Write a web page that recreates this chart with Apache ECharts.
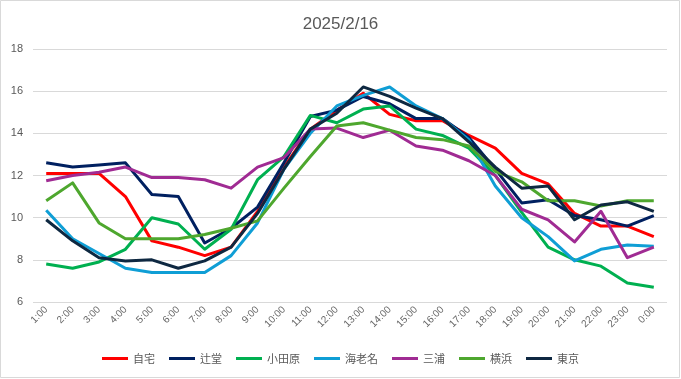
<!DOCTYPE html>
<html>
<head>
<meta charset="utf-8">
<script src="https://cdn.jsdelivr.net/npm/echarts@6/dist/echarts.min.js"></script>
<style>
html,body{margin:0;padding:0;background:#fff;}
#c{width:681px;height:379px;}
</style>
</head>
<body>
<div id="c"></div>
<script>
const title = "2025/2/16";
const categories = ["1:00","2:00","3:00","4:00","5:00","6:00","7:00","8:00","9:00","10:00","11:00","12:00","13:00","14:00","15:00","16:00","17:00","18:00","19:00","20:00","21:00","22:00","23:00","0:00"];
const yTicks = [6, 8, 10, 12, 14, 16, 18];
const seriesNames = ["自宅","辻堂","小田原","海老名","三浦","横浜","東京"];
const jitaku   = [12.1,12.1,12.1,11.0,8.9,8.6,8.2,8.6,10.3,12.4,14.2,15.1,15.9,14.9,14.6,14.6,13.9,13.3,12.1,11.6,10.2,9.6,9.6,9.1];
const tsujido  = [12.6,12.4,12.5,12.6,11.1,11.0,8.8,9.5,10.5,12.6,14.8,15.1,15.75,15.4,14.7,14.7,13.8,12.3,10.7,10.85,10.1,9.9,9.6,10.1];
const odawara  = [7.8,7.6,7.9,8.5,10.0,9.7,8.5,9.45,11.8,12.9,14.85,14.5,15.15,15.3,14.2,13.9,13.3,12.0,10.25,8.6,8.0,7.7,6.9,6.7];
const ebina    = [10.35,9.0,8.3,7.6,7.4,7.4,7.4,8.2,9.75,12.3,14.0,15.3,15.8,16.2,15.3,14.7,13.7,11.5,10.0,9.1,7.95,8.5,8.7,8.65];
const miura    = [11.75,12.0,12.15,12.4,11.9,11.9,11.8,11.4,12.4,12.85,14.2,14.25,13.8,14.15,13.4,13.2,12.7,12.0,10.4,9.9,8.85,10.3,8.1,8.6];
const yokohama = [10.8,11.65,9.75,9.0,9.0,9.0,9.2,9.5,9.85,11.4,12.9,14.35,14.5,14.15,13.8,13.7,13.4,12.2,11.7,10.8,10.8,10.55,10.8,10.8];
const tokyo    = [9.9,8.9,8.1,7.95,8.0,7.6,7.95,8.6,10.2,12.3,14.2,14.95,16.2,15.75,15.2,14.7,13.6,12.4,11.4,11.5,9.9,10.6,10.75,10.3];
const seriesData = [jitaku, tsujido, odawara, ebina, miura, yokohama, tokyo];
const colors = ["#FF0000","#002060","#00B050","#0F9ED5","#A02B93","#4EA72E","#0E2841"];

const chart = echarts.init(document.getElementById('c'), null, {renderer:'canvas'});
const font = "'Liberation Sans','Noto Sans CJK JP',sans-serif";
chart.setOption({
  animation:false,
  backgroundColor:'#ffffff',
  graphic:[{type:'rect',shape:{x:0.5,y:0.5,width:679,height:377},style:{fill:'none',stroke:'#d9d9d9',lineWidth:1},silent:true}],
  title:{text:title,left:'center',top:11,textStyle:{fontFamily:font,fontSize:17,fontWeight:'normal',color:'#595959'}},
  legend:{
    bottom:10,left:'center',itemWidth:26,itemHeight:3,itemGap:14,icon:'rect',
    textStyle:{fontFamily:"'Noto Sans CJK JP',sans-serif",fontSize:11,color:'#595959'},
    data:seriesNames
  },
  grid:{left:33,right:14,top:49,bottom:77,containLabel:false},
  xAxis:{
    type:'category',data:categories,boundaryGap:true,
    axisLine:{show:false},axisTick:{show:false},
    axisLabel:{rotate:45,fontFamily:font,fontSize:10,color:'#666666',margin:6,interval:0}
  },
  yAxis:{
    type:'value',min:yTicks[0],max:yTicks[yTicks.length-1],interval:2,
    axisLine:{show:false},axisTick:{show:false},
    axisLabel:{fontFamily:font,fontSize:11,color:'#595959',margin:10},
    splitLine:{lineStyle:{color:'#d9d9d9',width:1}}
  },
  series:seriesNames.map((n,i)=>({
    name:n,type:'line',data:seriesData[i],symbol:'none',
    lineStyle:{color:colors[i],width:3,join:'round'},itemStyle:{color:colors[i]}
  }))
});
</script>
</body>
</html>
